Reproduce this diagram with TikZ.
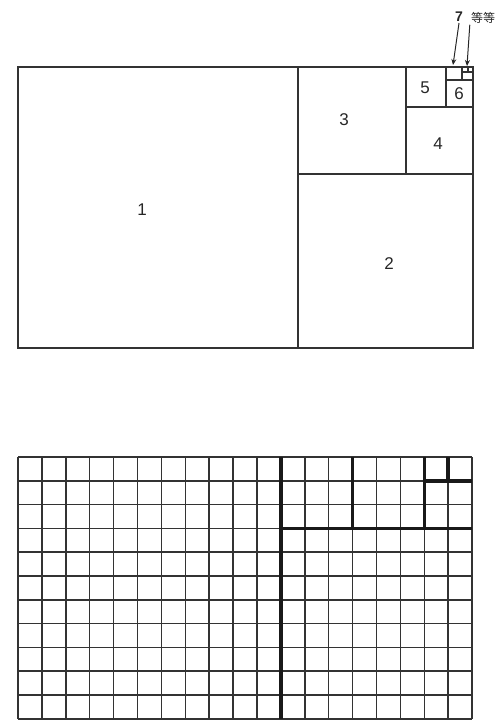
\documentclass[tikz,border=0pt]{standalone}
\usepackage{fontspec}
\setmainfont{Liberation Sans}
\newfontfamily\cjk{Noto Sans CJK SC}
\usetikzlibrary{arrows.meta}
\tikzset{
  frame_line/.style = {draw=black!80, line width=1.5pt},% rectangle d'or
  grid_line/.style = {draw=black!80, line width=1.5pt},% grille fine
  heavy_line/.style = {draw=black!90, line width=3.5pt},% grille, traits epais
  sq_label/.style = {font=\fontsize{17}{17}\selectfont, text=black!85},
  note_label/.style = {inner sep=1pt, text=black!85},
  note_arrow/.style = {draw=black!85, line width=1pt,
    -{Stealth[length=6pt,width=5pt]}}
}

\begin{document}
\begin{tikzpicture}[x=1pt, y=-1pt]
  \useasboundingbox (0,0) rectangle (499,727);
  % rectangle d'or
  \draw[frame_line] (18,67) rectangle (473,348);
  \draw[frame_line] (298,67) -- (298,348);
  \draw[frame_line] (298,174) -- (473,174);
  \draw[frame_line] (406,67) -- (406,174);
  \draw[frame_line] (406,107) -- (473,107);
  \draw[frame_line] (446,67) -- (446,107);
  \draw[frame_line] (446,80) -- (473,80);
  \draw[frame_line] (462,67) -- (462,80);
  \draw[frame_line] (462,72) -- (473,72);
  \draw[frame_line] (468,67) -- (468,72);
  \node[sq_label] (sq1) at (142,210) {1};
  \node[sq_label] (sq2) at (389,264) {2};
  \node[sq_label] (sq3) at (344,120) {3};
  \node[sq_label] (sq4) at (438,144) {4};
  \node[sq_label] (sq5) at (425,88) {5};
  \node[sq_label] (sq6) at (459,94) {6};
  \node[note_label, font=\fontsize{14}{14}\selectfont\bfseries] (sq7) at (459,17) {7};
  \node[note_label, font=\fontsize{12}{12}\selectfont\cjk] (etc) at (483,18) {等等};
  \coordinate (tip7) at (453,65);
  \coordinate (tip_etc) at (467,66);
  \draw[note_arrow] (sq7.south) -- (tip7);
  \draw[note_arrow] (etc.south west) -- (tip_etc);
  % grille 19 x 11
  \foreach \i in {0,...,19}
    \draw[grid_line] ({18+23.9*\i},457) -- ({18+23.9*\i},719);
  \foreach \j in {0,...,11}
    \draw[grid_line] (18,{457+23.8*\j}) -- (472,{457+23.8*\j});
  % traits epais
  \draw[heavy_line] (280.9,457) -- (280.9,719);
  \draw[heavy_line] (280.9,528.4) -- (472,528.4);
  \draw[heavy_line] (352.6,457) -- (352.6,528.4);
  \draw[heavy_line] (424.3,457) -- (424.3,528.4);
  \draw[heavy_line] (424.3,480.8) -- (472,480.8);
  \draw[heavy_line] (448.2,457) -- (448.2,480.8);
\end{tikzpicture}
\end{document}
